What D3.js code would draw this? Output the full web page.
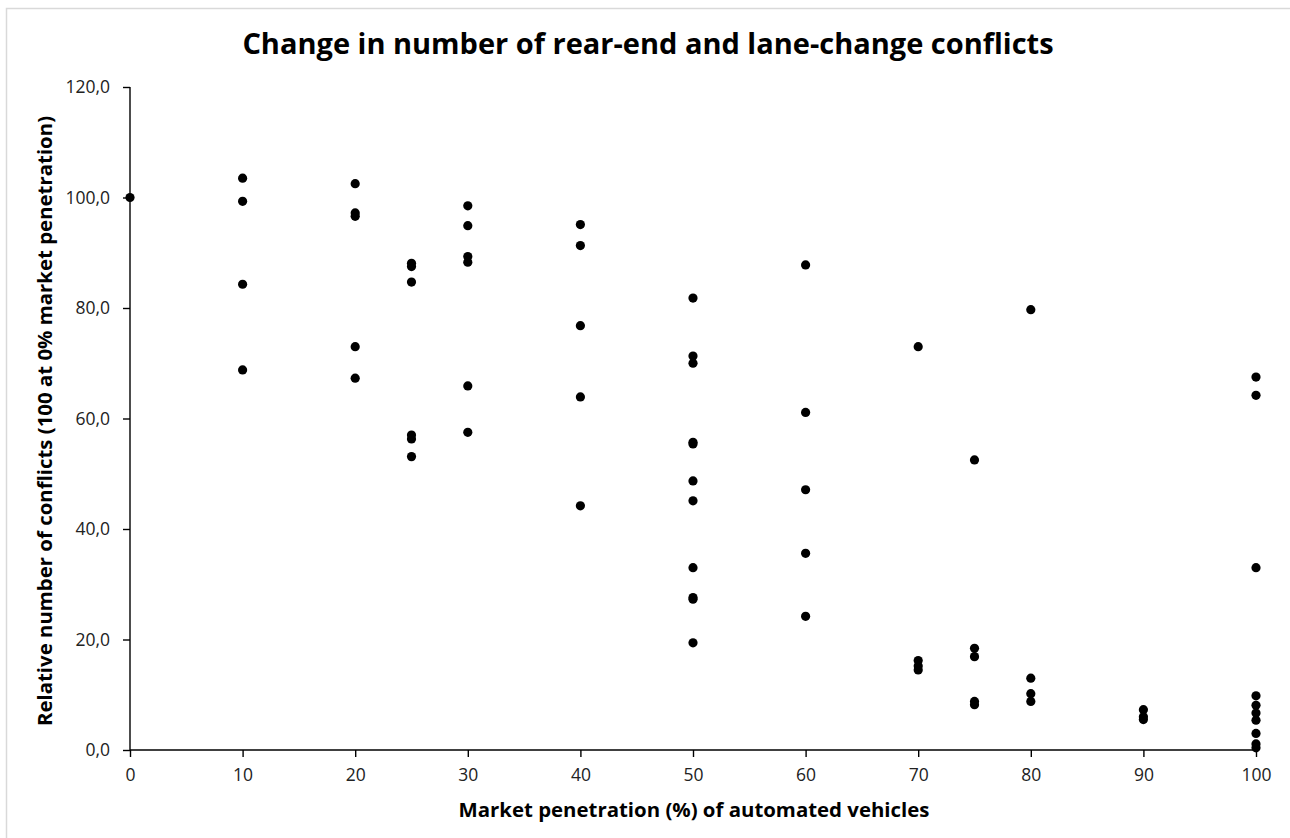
<!DOCTYPE html>
<html>
<head>
<meta charset="utf-8">
<script src="https://cdn.jsdelivr.net/npm/d3@7"></script>
<style>
  html, body { margin: 0; padding: 0; background: #fff; }
  svg { display: block; }
</style>
</head>
<body>
<svg id="chart" width="1290" height="838"></svg>
<script>
// Market penetration (%) for each observation
const penetration = [
  0,
  10, 10, 10, 10,
  20, 20, 20, 20, 20,
  25, 25, 25, 25, 25, 25,
  30, 30, 30, 30, 30, 30,
  40, 40, 40, 40, 40,
  50, 50, 50, 50, 50, 50, 50, 50, 50, 50, 50,
  60, 60, 60, 60, 60,
  70, 70, 70, 70,
  75, 75, 75, 75, 75,
  80, 80, 80, 80,
  90, 90, 90,
  100, 100, 100, 100, 100, 100, 100, 100, 100, 100
];
// Relative number of conflicts (100 at 0% market penetration)
const relConflicts = [
  100.0,
  103.5, 99.3, 84.3, 68.8,
  102.5, 97.2, 96.6, 73.0, 67.3,
  88.1, 87.5, 84.7, 57.0, 56.3, 53.1,
  98.5, 94.9, 89.3, 88.3, 65.9, 57.5,
  95.1, 91.3, 76.8, 63.9, 44.2,
  81.8, 71.3, 70.0, 55.7, 55.4, 48.7, 45.1, 33.0, 27.6, 27.3, 19.4,
  87.8, 61.1, 47.1, 35.6, 24.2,
  73.0, 16.2, 15.2, 14.5,
  52.5, 18.4, 16.9, 8.8, 8.2,
  79.7, 13.0, 10.2, 8.8,
  7.3, 6.0, 5.5,
  67.5, 64.2, 33.0, 9.8, 8.1, 6.7, 5.4, 3.0, 1.1, 0.4
];
const xTicks = [0, 10, 20, 30, 40, 50, 60, 70, 80, 90, 100];
const yTicks = [0, 20, 40, 60, 80, 100, 120];

const chartTitle = "Change in number of rear-end and lane-change conflicts";
const xTitle = "Market penetration (%) of automated vehicles";
const yTitle = "Relative number of conflicts (100 at 0% market penetration)";

(function () {
const svg = d3.select("#chart");
const W = 1290, H = 838;
const mLeft = 130, mRight = 1256, mTop = 87, mBottom = 750;

// chart frame border
svg.append("rect")
  .attr("x", 6.5).attr("y", 8.5)
  .attr("width", W + 10).attr("height", H + 10)
  .attr("fill", "none").attr("stroke", "#d9d9d9").attr("stroke-width", 1.5);

const x = d3.scaleLinear().domain([0, 100]).range([mLeft, mRight]);
const y = d3.scaleLinear().domain([0, 120]).range([mBottom, mTop]);

const font = "'Open Sans', Lato, 'Liberation Sans', sans-serif";

// Y axis
const yAxis = svg.append("g")
  .attr("transform", `translate(${mLeft},0)`)
  .call(d3.axisLeft(y).tickValues(yTicks).tickSize(7).tickPadding(13)
    .tickFormat(d => d3.format(".1f")(d).replace(".", ",")));
// X axis
const xAxis = svg.append("g")
  .attr("transform", `translate(0,${mBottom})`)
  .call(d3.axisBottom(x).tickValues(xTicks).tickSize(7).tickPadding(12)
    .tickFormat(d3.format("d")));

[yAxis, xAxis].forEach(g => {
  g.select(".domain").attr("stroke", "#000").attr("stroke-width", 1.4);
  g.selectAll(".tick line").attr("stroke", "#000").attr("stroke-width", 1.4);
  g.selectAll(".tick text").attr("fill", "#222").attr("font-family", font)
    .attr("font-size", 17.5);
});
yAxis.select(".domain").attr("d", `M0,${mBottom}V${mTop}`);
xAxis.select(".domain").attr("d", `M${mLeft},0H${mRight}`);

// Points
svg.append("g")
  .selectAll("circle")
  .data(penetration.map((p, i) => ({ p, v: relConflicts[i] })))
  .join("circle")
  .attr("cx", d => x(d.p))
  .attr("cy", d => y(d.v))
  .attr("r", 4.6)
  .attr("fill", "#000");

// Title
svg.append("text")
  .attr("x", 648).attr("y", 54)
  .attr("text-anchor", "middle")
  .attr("font-family", font).attr("font-weight", "bold")
  .attr("font-size", 29).attr("fill", "#000")
  .text(chartTitle);

// X axis title
svg.append("text")
  .attr("x", 694).attr("y", 817)
  .attr("text-anchor", "middle")
  .attr("font-family", font).attr("font-weight", "bold")
  .attr("font-size", 20.4).attr("fill", "#000")
  .text(xTitle);

// Y axis title
svg.append("text")
  .attr("transform", `translate(52,421) rotate(-90)`)
  .attr("text-anchor", "middle")
  .attr("font-family", font).attr("font-weight", "bold")
  .attr("font-size", 20.4).attr("fill", "#000")
  .text(yTitle);
})();
</script>
</body>
</html>
